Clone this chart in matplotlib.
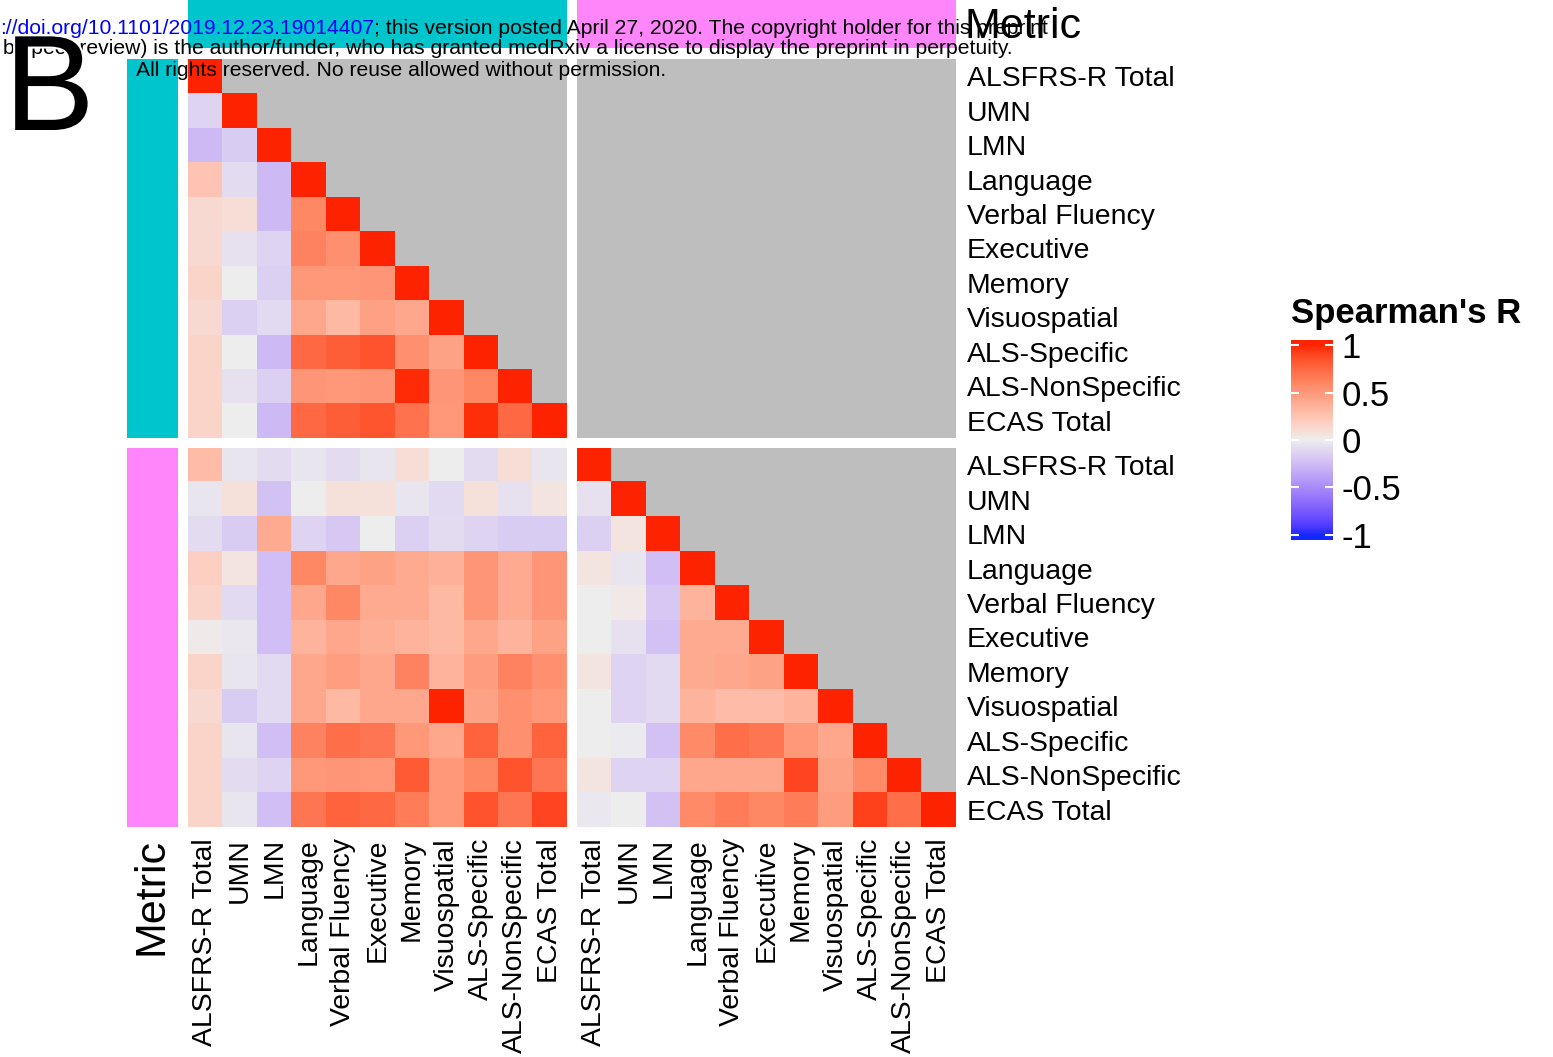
import matplotlib
matplotlib.use("Agg")
import matplotlib.pyplot as plt
import matplotlib.patheffects as pe
from matplotlib.colors import ListedColormap
import numpy as np

plt.rcParams['font.family'] = 'Liberation Sans'

metrics = ["ALSFRS-R Total", "UMN", "LMN", "Language", "Verbal Fluency",
           "Executive", "Memory", "Visuospatial", "ALS-Specific",
           "ALS-NonSpecific", "ECAS Total"]

# lower triangle, cyan group vs itself
r_top = [
    [1.0],
    [-0.13, 1.0],
    [-0.26, -0.17, 1.0],
    [0.25, -0.09, -0.26, 1.0],
    [0.12, 0.10, -0.26, 0.60, 1.0],
    [0.12, -0.07, -0.13, 0.62, 0.55, 1.0],
    [0.15, 0.00, -0.15, 0.50, 0.50, 0.52, 1.0],
    [0.12, -0.15, -0.10, 0.42, 0.32, 0.46, 0.42, 1.0],
    [0.15, 0.00, -0.26, 0.75, 0.80, 0.85, 0.55, 0.45, 1.0],
    [0.15, -0.07, -0.15, 0.52, 0.50, 0.52, 0.98, 0.52, 0.60, 1.0],
    [0.15, 0.00, -0.26, 0.75, 0.80, 0.84, 0.70, 0.50, 0.97, 0.75, 1.0],
]

# full block, magenta rows vs cyan columns
r_cross = [
    [0.30, -0.04, -0.09, -0.04, -0.09, -0.04, 0.10, 0.00, -0.09, 0.10, -0.04],
    [-0.04, 0.08, -0.22, 0.00, 0.08, 0.08, -0.04, -0.10, 0.08, -0.07, 0.06],
    [-0.09, -0.17, 0.40, -0.13, -0.19, 0.00, -0.15, -0.09, -0.13, -0.17, -0.17],
    [0.18, 0.06, -0.24, 0.60, 0.42, 0.45, 0.40, 0.36, 0.52, 0.40, 0.52],
    [0.15, -0.10, -0.24, 0.42, 0.60, 0.40, 0.40, 0.32, 0.52, 0.40, 0.52],
    [0.02, -0.03, -0.24, 0.35, 0.42, 0.38, 0.35, 0.32, 0.42, 0.35, 0.45],
    [0.15, -0.04, -0.10, 0.42, 0.47, 0.42, 0.62, 0.35, 0.48, 0.62, 0.55],
    [0.12, -0.17, -0.10, 0.42, 0.32, 0.42, 0.42, 1.00, 0.45, 0.55, 0.50],
    [0.15, -0.04, -0.24, 0.62, 0.72, 0.68, 0.50, 0.42, 0.78, 0.55, 0.78],
    [0.15, -0.09, -0.13, 0.50, 0.52, 0.50, 0.82, 0.50, 0.60, 0.85, 0.68],
    [0.15, -0.04, -0.24, 0.68, 0.78, 0.75, 0.65, 0.50, 0.85, 0.68, 0.90],
]

# lower triangle, magenta group vs itself
r_bottom = [
    [1.0],
    [-0.07, 1.0],
    [-0.15, 0.06, 1.0],
    [0.06, -0.04, -0.24, 1.0],
    [0.00, 0.03, -0.19, 0.35, 1.0],
    [0.00, -0.07, -0.22, 0.40, 0.40, 1.0],
    [0.06, -0.13, -0.10, 0.40, 0.42, 0.45, 1.0],
    [0.00, -0.13, -0.10, 0.35, 0.30, 0.30, 0.35, 1.0],
    [0.00, -0.02, -0.22, 0.58, 0.72, 0.68, 0.50, 0.42, 1.0],
    [0.06, -0.13, -0.13, 0.42, 0.42, 0.42, 0.90, 0.45, 0.58, 1.0],
    [-0.03, 0.00, -0.22, 0.58, 0.65, 0.60, 0.65, 0.48, 0.92, 0.72, 1.0],
]

legend_ticks = [-1, -0.5, 0, 0.5, 1]
group_colors = ["#00C5CD", "#FF85FA"]


def tri_to_matrix(rows):
    n = len(rows)
    m = np.full((n, n), np.nan)
    for i, row in enumerate(rows):
        m[i, :len(row)] = row
    return m


# --- colour ramp interpolated in CIE Lab, like circlize::colorRamp2 ---
WHITE = np.array([0.95047, 1.0, 1.08883])
M_RGB2XYZ = np.array([[0.4124, 0.3576, 0.1805],
                      [0.2126, 0.7152, 0.0722],
                      [0.0193, 0.1192, 0.9505]])


def rgb_to_lab(rgb):
    c = np.asarray(rgb, float)
    lin = np.where(c <= 0.04045, c / 12.92, ((c + 0.055) / 1.055) ** 2.4)
    xyz = lin @ M_RGB2XYZ.T / WHITE
    f = np.where(xyz > 0.008856, np.cbrt(xyz), 7.787 * xyz + 16 / 116)
    return np.stack([116 * f[..., 1] - 16,
                     500 * (f[..., 0] - f[..., 1]),
                     200 * (f[..., 1] - f[..., 2])], axis=-1)


def lab_to_rgb(lab):
    fy = (lab[..., 0] + 16) / 116
    fx = fy + lab[..., 1] / 500
    fz = fy - lab[..., 2] / 200
    f = np.stack([fx, fy, fz], axis=-1)
    xyz = np.where(f > 0.2069, f ** 3, (f - 16 / 116) / 7.787) * WHITE
    lin = xyz @ np.linalg.inv(M_RGB2XYZ).T
    lin = np.clip(lin, 0, 1)
    c = np.where(lin <= 0.0031308, 12.92 * lin, 1.055 * lin ** (1 / 2.4) - 0.055)
    return np.clip(c, 0, 1)


anchors = np.array([[20, 40, 255], [238, 238, 238], [255, 36, 0]]) / 255
lab_anchors = rgb_to_lab(anchors)
t = np.linspace(-1, 1, 256)
lab = np.stack([np.interp(t, [-1, 0, 1], lab_anchors[:, k]) for k in range(3)], axis=-1)
cmap = ListedColormap(lab_to_rgb(lab))
cmap.set_bad("#BEBEBE")

W, H = 1553, 1057
fig = plt.figure(figsize=(W / 100, H / 100), dpi=100)


def px_axes(x0, y0, x1, y1):
    return fig.add_axes([x0 / W, 1 - y1 / H, (x1 - x0) / W, (y1 - y0) / H])


blocks = {
    (0, 0): tri_to_matrix(r_top),
    (0, 1): np.full((11, 11), np.nan),
    (1, 0): np.array(r_cross),
    (1, 1): tri_to_matrix(r_bottom),
}
xs = [(188, 567), (577, 956)]
ys = [(59, 438), (448, 827)]

for (r, c), mat in blocks.items():
    ax = px_axes(xs[c][0], ys[r][0], xs[c][1], ys[r][1])
    ax.imshow(mat, cmap=cmap, vmin=-1, vmax=1, aspect="auto",
              interpolation="nearest")
    for s in ax.spines.values():
        s.set_visible(False)
    ax.tick_params(length=0, labelsize=20.4, pad=8)
    if c == 1:
        ax.yaxis.tick_right()
        ax.set_yticks(range(11), metrics)
    else:
        ax.set_yticks([])
    if r == 1:
        ax.set_xticks(range(11), metrics, rotation=90)
    else:
        ax.set_xticks([])

# group annotation bars
for i in range(2):
    ax = px_axes(127, ys[i][0], 178, ys[i][1])
    ax.set_facecolor(group_colors[i])
    ax.set_xticks([]); ax.set_yticks([])
    for s in ax.spines.values():
        s.set_visible(False)
    ax = px_axes(xs[i][0], -5, xs[i][1], 48)
    ax.set_facecolor(group_colors[i])
    ax.set_xticks([]); ax.set_yticks([])
    for s in ax.spines.values():
        s.set_visible(False)

# legend
cax = px_axes(1291, 340, 1333, 540)
lim = 1.053
grad = np.linspace(-lim, lim, 300).reshape(-1, 1)
cax.imshow(grad, cmap=cmap, vmin=-1, vmax=1, aspect="auto", origin="lower",
           extent=(0, 1, -lim, lim))
cax.set_xlim(0, 1)
cax.set_ylim(-lim, lim)
cax.hlines(legend_ticks, 0, 0.2, color="white", lw=1.5)
cax.hlines(legend_ticks, 0.8, 1, color="white", lw=1.5)
cax.set_xticks([])
cax.yaxis.tick_right()
cax.set_yticks(legend_ticks, [f"{v:g}" for v in legend_ticks])
cax.tick_params(length=0, labelsize=25, pad=6)
for s in cax.spines.values():
    s.set_visible(False)

# free text layer in pixel coordinates
top = fig.add_axes([0, 0, 1, 1], zorder=5)
top.set_xlim(0, W)
top.set_ylim(H, 0)
top.set_axis_off()

top.text(1291, 313, "Spearman's R", fontsize=25, fontweight="bold", va="center")
top.text(965, 27, "Metric", fontsize=31, va="center")
top.text(152, 838, "Metric", fontsize=31, rotation=90, ha="center", va="top")

hs = 15.2
doi = top.text(0, 28, "://doi.org/10.1101/2019.12.23.19014407", color="blue",
               fontsize=hs, va="center")
top.annotate("; this version posted April 27, 2020. The copyright holder for this preprint",
             xy=(1, 0.5), xycoords=doi, va="center", fontsize=hs)
top.text(3, 49, "by peer review) is the author/funder, who has granted medRxiv a "
         "license to display the preprint in perpetuity.", fontsize=hs, va="center")
top.text(136, 71, "All rights reserved. No reuse allowed without permission.",
         fontsize=hs, va="center")

top.text(4, 130, "B", fontsize=98, va="baseline", ha="left",
         path_effects=[pe.withStroke(linewidth=3, foreground="white")])

fig.savefig("out.png", dpi=100)
